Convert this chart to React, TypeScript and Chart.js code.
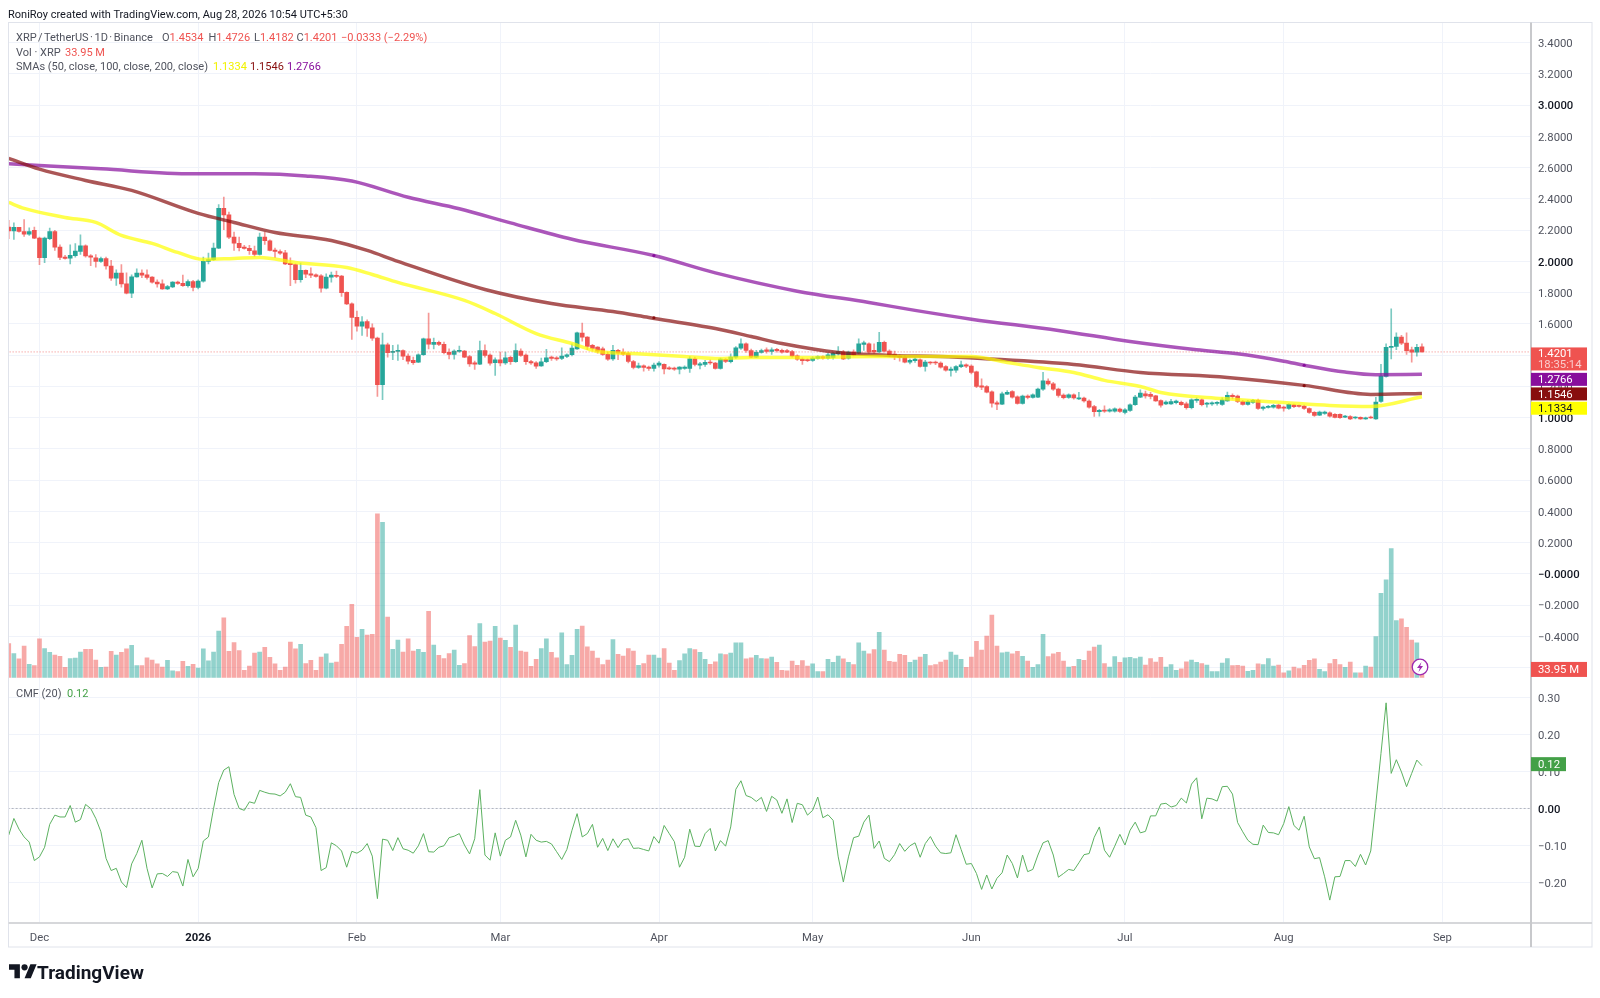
import { Chart, registerables, type Plugin } from 'chart.js';
import { type FC, type ReactNode, useEffect, useRef } from 'react';

Chart.register(...registerables);

// days counted from 1 Dec 2025; the first candle is 25 Nov
const firstDay = -6;
const monthDays = [0, 31, 62, 90, 121, 151, 182, 212, 243, 274];
const monthLabels = ['Dec', '2026', 'Feb', 'Mar', 'Apr', 'May', 'Jun', 'Jul', 'Aug', 'Sep'];
const priceTicks = [3.4, 3.2, 3.0, 2.8, 2.6, 2.4, 2.2, 2.0, 1.8, 1.6, 1.4, 1.2, 1.0, 0.8, 0.6, 0.4, 0.2, 0, -0.2, -0.4, -0.6];
const cmfTicks = [0.3, 0.2, 0.1, 0, -0.1, -0.2];

const opens = [
  2.219, 2.194, 2.217, 2.191, 2.174, 2.198,
  2.149, 2.023, 2.145, 2.191, 2.091, 2.027, 2.021, 2.036, 2.063, 2.1,
  2.036, 2.023, 2.0, 2.017, 1.97, 1.893, 1.925, 1.856, 1.797, 1.901,
  1.925, 1.914, 1.899, 1.867, 1.856, 1.824, 1.837, 1.867, 1.859, 1.844,
  1.871, 1.833, 1.873, 2.0, 2.01, 2.085, 2.339, 2.298, 2.155, 2.115,
  2.091, 2.083, 2.068, 2.044, 2.155, 2.132, 2.072, 2.063, 2.055, 1.987,
  1.98, 1.882, 1.942, 1.92, 1.914, 1.908, 1.829, 1.899, 1.91, 1.906,
  1.801, 1.728, 1.641, 1.585, 1.615, 1.575, 1.509, 1.21, 1.466, 1.417,
  1.423, 1.428, 1.393, 1.366, 1.355, 1.402, 1.504, 1.468, 1.481, 1.468,
  1.417, 1.404, 1.423, 1.426, 1.391, 1.351, 1.342, 1.428, 1.4, 1.351,
  1.37, 1.349, 1.385, 1.357, 1.426, 1.4, 1.359, 1.351, 1.331, 1.357,
  1.387, 1.383, 1.378, 1.391, 1.402, 1.44, 1.541, 1.515, 1.462, 1.451,
  1.44, 1.404, 1.376, 1.43, 1.417, 1.41, 1.359, 1.321, 1.331, 1.323,
  1.314, 1.336, 1.34, 1.319, 1.314, 1.31, 1.314, 1.314, 1.376, 1.336,
  1.34, 1.355, 1.349, 1.314, 1.372, 1.357, 1.387, 1.445, 1.472, 1.428,
  1.387, 1.417, 1.434, 1.423, 1.436, 1.43, 1.428, 1.423, 1.395, 1.374,
  1.37, 1.366, 1.378, 1.391, 1.381, 1.385, 1.408, 1.419, 1.381, 1.421,
  1.413, 1.468, 1.472, 1.43, 1.421, 1.481, 1.425, 1.406, 1.393, 1.385,
  1.355, 1.364, 1.37, 1.327, 1.355, 1.355, 1.349, 1.327, 1.301, 1.304,
  1.325, 1.338, 1.329, 1.293, 1.203, 1.199, 1.165, 1.095, 1.086, 1.15,
  1.167, 1.133, 1.09, 1.137, 1.129, 1.131, 1.182, 1.233, 1.216, 1.182,
  1.144, 1.129, 1.146, 1.12, 1.125, 1.105, 1.071, 1.037, 1.048, 1.041,
  1.041, 1.054, 1.033, 1.046, 1.082, 1.131, 1.152, 1.148, 1.139, 1.109,
  1.088, 1.088, 1.095, 1.097, 1.088, 1.063, 1.11, 1.114, 1.086, 1.088,
  1.09, 1.084, 1.107, 1.142, 1.137, 1.103, 1.084, 1.097, 1.11, 1.058,
  1.065, 1.067, 1.08, 1.067, 1.058, 1.082, 1.078, 1.073, 1.058, 1.033,
  1.016, 1.026, 1.031, 1.02, 1.02, 1.003, 1.007, 0.997, 1.001, 0.992,
  1.003, 0.992, 1.103, 1.263, 1.449, 1.455, 1.515, 1.477, 1.434, 1.419,
  1.4534,
];

const closes = [
  2.194, 2.217, 2.191, 2.174, 2.191, 2.149,
  2.023, 2.149, 2.191, 2.091, 2.025, 2.019, 2.038, 2.066, 2.1, 2.034,
  2.027, 2.0, 2.017, 1.97, 1.893, 1.925, 1.856, 1.797, 1.901, 1.925,
  1.912, 1.897, 1.867, 1.856, 1.824, 1.839, 1.867, 1.859, 1.844, 1.871,
  1.833, 1.873, 2.0, 2.012, 2.085, 2.339, 2.298, 2.155, 2.117, 2.087,
  2.083, 2.068, 2.044, 2.155, 2.132, 2.07, 2.063, 2.053, 1.984, 1.978,
  1.882, 1.942, 1.918, 1.912, 1.903, 1.829, 1.899, 1.912, 1.903, 1.799,
  1.728, 1.641, 1.585, 1.613, 1.573, 1.509, 1.21, 1.466, 1.415, 1.423,
  1.43, 1.393, 1.361, 1.351, 1.402, 1.504, 1.47, 1.481, 1.468, 1.415,
  1.404, 1.426, 1.43, 1.387, 1.344, 1.342, 1.428, 1.398, 1.348, 1.37,
  1.349, 1.383, 1.357, 1.428, 1.398, 1.357, 1.349, 1.329, 1.357, 1.383,
  1.378, 1.376, 1.393, 1.402, 1.445, 1.543, 1.515, 1.455, 1.443, 1.425,
  1.404, 1.374, 1.43, 1.413, 1.406, 1.359, 1.321, 1.331, 1.321, 1.314,
  1.336, 1.349, 1.312, 1.312, 1.31, 1.323, 1.323, 1.376, 1.34, 1.344,
  1.353, 1.349, 1.314, 1.374, 1.359, 1.387, 1.447, 1.472, 1.43, 1.387,
  1.417, 1.428, 1.423, 1.434, 1.428, 1.419, 1.419, 1.393, 1.374, 1.364,
  1.364, 1.381, 1.391, 1.381, 1.402, 1.413, 1.423, 1.376, 1.419, 1.4,
  1.472, 1.479, 1.419, 1.419, 1.481, 1.425, 1.4, 1.395, 1.385, 1.355,
  1.366, 1.374, 1.327, 1.355, 1.349, 1.349, 1.323, 1.304, 1.31, 1.327,
  1.338, 1.329, 1.289, 1.199, 1.195, 1.163, 1.092, 1.086, 1.152, 1.161,
  1.131, 1.09, 1.137, 1.129, 1.146, 1.182, 1.235, 1.216, 1.182, 1.142,
  1.127, 1.146, 1.125, 1.127, 1.107, 1.067, 1.037, 1.046, 1.041, 1.05,
  1.056, 1.039, 1.05, 1.082, 1.131, 1.156, 1.139, 1.135, 1.107, 1.08,
  1.099, 1.103, 1.105, 1.082, 1.063, 1.114, 1.114, 1.082, 1.092, 1.095,
  1.097, 1.114, 1.142, 1.133, 1.103, 1.084, 1.103, 1.11, 1.058, 1.067,
  1.071, 1.078, 1.06, 1.06, 1.084, 1.069, 1.071, 1.058, 1.033, 1.014,
  1.035, 1.035, 1.009, 1.001, 0.999, 1.009, 0.992, 1.003, 0.992, 0.999,
  0.997, 1.099, 1.265, 1.449, 1.453, 1.515, 1.477, 1.428, 1.419, 1.449,
  1.4201,
];

const highs = [
  2.262, 2.247, 2.217, 2.268, 2.215, 2.219,
  2.155, 2.155, 2.213, 2.198, 2.106, 2.038, 2.106, 2.113, 2.17, 2.106,
  2.044, 2.044, 2.027, 2.027, 2.006, 1.946, 1.98, 1.927, 1.914, 1.952,
  1.946, 1.946, 1.903, 1.882, 1.882, 1.846, 1.871, 1.873, 1.912, 1.882,
  1.878, 1.882, 2.027, 2.053, 2.117, 2.364, 2.411, 2.315, 2.187, 2.155,
  2.102, 2.102, 2.098, 2.181, 2.187, 2.138, 2.085, 2.074, 2.07, 2.023,
  1.984, 1.989, 1.946, 1.959, 1.92, 1.916, 1.92, 1.931, 1.937, 1.91,
  1.805, 1.735, 1.681, 1.647, 1.626, 1.6, 1.515, 1.541, 1.477, 1.462,
  1.466, 1.434, 1.408, 1.387, 1.408, 1.509, 1.669, 1.509, 1.489, 1.483,
  1.44, 1.434, 1.458, 1.43, 1.398, 1.361, 1.489, 1.466, 1.408, 1.383,
  1.419, 1.419, 1.393, 1.472, 1.44, 1.408, 1.366, 1.359, 1.38, 1.436,
  1.393, 1.391, 1.447, 1.408, 1.472, 1.547, 1.605, 1.519, 1.468, 1.455,
  1.451, 1.419, 1.462, 1.436, 1.44, 1.419, 1.366, 1.349, 1.338, 1.329,
  1.349, 1.359, 1.344, 1.327, 1.323, 1.327, 1.331, 1.391, 1.387, 1.353,
  1.366, 1.37, 1.353, 1.38, 1.378, 1.408, 1.455, 1.504, 1.479, 1.438,
  1.43, 1.438, 1.447, 1.447, 1.443, 1.438, 1.436, 1.43, 1.402, 1.383,
  1.376, 1.391, 1.395, 1.395, 1.413, 1.419, 1.455, 1.43, 1.425, 1.434,
  1.504, 1.489, 1.479, 1.472, 1.545, 1.489, 1.434, 1.425, 1.402, 1.398,
  1.374, 1.383, 1.376, 1.366, 1.359, 1.361, 1.357, 1.333, 1.323, 1.333,
  1.361, 1.344, 1.338, 1.297, 1.248, 1.205, 1.171, 1.105, 1.163, 1.173,
  1.173, 1.139, 1.144, 1.146, 1.152, 1.188, 1.289, 1.248, 1.225, 1.188,
  1.152, 1.152, 1.152, 1.161, 1.131, 1.114, 1.078, 1.052, 1.075, 1.058,
  1.063, 1.06, 1.058, 1.088, 1.142, 1.178, 1.169, 1.161, 1.142, 1.114,
  1.107, 1.116, 1.112, 1.105, 1.099, 1.12, 1.127, 1.12, 1.097, 1.101,
  1.103, 1.127, 1.163, 1.152, 1.144, 1.11, 1.11, 1.116, 1.118, 1.073,
  1.078, 1.084, 1.086, 1.073, 1.09, 1.086, 1.082, 1.08, 1.063, 1.039,
  1.041, 1.041, 1.037, 1.026, 1.024, 1.014, 1.012, 1.007, 1.005, 1.003,
  1.01, 1.129, 1.34, 1.472, 1.696, 1.543, 1.526, 1.543, 1.451, 1.468,
  1.4726,
];

const lows = [
  2.145, 2.14, 2.187, 2.159, 2.166, 2.145,
  1.978, 1.991, 2.138, 2.07, 2.01, 2.014, 1.984, 2.027, 2.044, 2.027,
  1.972, 1.963, 1.993, 1.95, 1.878, 1.846, 1.835, 1.792, 1.767, 1.899,
  1.895, 1.886, 1.861, 1.835, 1.82, 1.818, 1.831, 1.852, 1.839, 1.835,
  1.81, 1.824, 1.867, 1.984, 2.006, 2.081, 2.202, 2.145, 2.07, 2.066,
  2.078, 2.044, 2.031, 2.04, 2.108, 2.066, 2.023, 2.044, 1.978, 1.844,
  1.861, 1.867, 1.895, 1.895, 1.899, 1.803, 1.824, 1.867, 1.895, 1.775,
  1.722, 1.5, 1.553, 1.526, 1.519, 1.494, 1.135, 1.114, 1.387, 1.37,
  1.366, 1.37, 1.344, 1.34, 1.351, 1.398, 1.44, 1.44, 1.46, 1.408,
  1.376, 1.374, 1.417, 1.383, 1.327, 1.308, 1.338, 1.387, 1.336, 1.27,
  1.331, 1.34, 1.34, 1.353, 1.391, 1.34, 1.34, 1.314, 1.327, 1.351,
  1.366, 1.366, 1.37, 1.383, 1.395, 1.436, 1.489, 1.434, 1.43, 1.413,
  1.398, 1.366, 1.366, 1.37, 1.398, 1.349, 1.312, 1.314, 1.297, 1.301,
  1.297, 1.323, 1.28, 1.306, 1.301, 1.28, 1.308, 1.289, 1.331, 1.312,
  1.327, 1.34, 1.31, 1.31, 1.351, 1.349, 1.378, 1.436, 1.417, 1.383,
  1.383, 1.413, 1.413, 1.404, 1.419, 1.413, 1.415, 1.387, 1.366, 1.34,
  1.357, 1.359, 1.374, 1.374, 1.374, 1.374, 1.4, 1.37, 1.374, 1.395,
  1.408, 1.43, 1.413, 1.413, 1.415, 1.419, 1.391, 1.37, 1.361, 1.349,
  1.344, 1.353, 1.323, 1.297, 1.34, 1.338, 1.316, 1.297, 1.265, 1.289,
  1.319, 1.319, 1.28, 1.191, 1.178, 1.157, 1.067, 1.05, 1.082, 1.146,
  1.124, 1.086, 1.086, 1.12, 1.124, 1.127, 1.174, 1.207, 1.174, 1.131,
  1.12, 1.122, 1.118, 1.114, 1.099, 1.06, 1.007, 1.009, 1.033, 1.035,
  1.035, 1.033, 1.024, 1.039, 1.078, 1.127, 1.124, 1.12, 1.103, 1.067,
  1.082, 1.084, 1.088, 1.078, 1.054, 1.056, 1.097, 1.075, 1.067, 1.078,
  1.08, 1.078, 1.103, 1.12, 1.095, 1.08, 1.08, 1.09, 1.052, 1.048,
  1.06, 1.06, 1.056, 1.041, 1.052, 1.063, 1.067, 1.052, 1.026, 1.007,
  1.012, 1.02, 1.003, 0.997, 0.995, 0.999, 0.986, 0.992, 0.988, 0.988,
  0.994, 0.988, 1.097, 1.259, 1.376, 1.434, 1.466, 1.404, 1.355, 1.393,
  1.4182,
];

// volume in millions of XRP
const volumes = [
  143, 101, 78, 132, 55, 50,
  162, 122, 106, 94, 89, 43, 80, 82, 107, 118,
  118, 73, 43, 44, 110, 94, 106, 120, 135, 50,
  50, 83, 73, 57, 44, 72, 28, 25, 68, 47,
  55, 40, 120, 70, 107, 195, 251, 110, 147, 113,
  30, 48, 103, 107, 127, 85, 57, 30, 44, 149,
  120, 139, 59, 72, 30, 86, 100, 61, 65, 139,
  215, 307, 169, 202, 178, 181, 687, 652, 254, 118,
  157, 107, 162, 111, 118, 106, 278, 136, 93, 80,
  101, 115, 51, 59, 176, 130, 227, 149, 153, 215,
  166, 156, 127, 220, 111, 107, 47, 76, 122, 163,
  106, 83, 188, 54, 93, 202, 216, 129, 111, 82,
  54, 73, 159, 97, 90, 122, 111, 51, 59, 94,
  94, 82, 122, 61, 30, 71, 99, 122, 117, 106,
  76, 55, 66, 99, 96, 103, 146, 146, 78, 83,
  93, 80, 78, 86, 64, 30, 28, 69, 51, 71,
  48, 57, 25, 25, 76, 64, 90, 78, 64, 54,
  146, 111, 99, 117, 190, 115, 68, 65, 97, 93,
  64, 73, 86, 97, 50, 54, 65, 73, 107, 94,
  76, 43, 86, 152, 115, 174, 262, 132, 104, 107,
  100, 110, 89, 69, 43, 54, 181, 88, 99, 106,
  69, 44, 47, 76, 72, 111, 128, 136, 59, 44,
  88, 64, 83, 85, 80, 86, 52, 80, 65, 85,
  44, 54, 30, 37, 66, 73, 64, 59, 52, 25,
  25, 61, 80, 50, 51, 48, 26, 30, 57, 54,
  80, 48, 52, 20, 28, 44, 38, 51, 72, 78,
  34, 25, 59, 76, 54, 43, 65, 20, 20, 48,
  44, 172, 354, 410, 542, 239, 246, 211, 157, 146,
  33.95,
];

const cmfValues = [
  -0.072, -0.027, -0.056, -0.077, -0.091, -0.141,
  -0.131, -0.105, -0.043, -0.018, -0.023, -0.023, 0.008, -0.037, -0.03, 0.011,
  0, -0.027, -0.063, -0.135, -0.168, -0.162, -0.199, -0.214, -0.15, -0.122,
  -0.086, -0.162, -0.215, -0.177, -0.176, -0.184, -0.171, -0.173, -0.21, -0.138,
  -0.185, -0.162, -0.088, -0.077, 0, 0.07, 0.104, 0.113, 0.038, 0,
  -0.005, 0.018, 0.014, 0.049, 0.044, 0.04, 0.039, 0.034, 0.044, 0.067,
  0.032, 0.03, -0.018, -0.023, -0.052, -0.168, -0.16, -0.093, -0.101, -0.115,
  -0.159, -0.116, -0.121, -0.113, -0.095, -0.129, -0.244, -0.083, -0.086, -0.114,
  -0.079, -0.109, -0.113, -0.121, -0.101, -0.068, -0.117, -0.118, -0.105, -0.101,
  -0.079, -0.075, -0.068, -0.099, -0.123, -0.082, 0.051, -0.126, -0.14, -0.066,
  -0.129, -0.086, -0.077, -0.032, -0.072, -0.131, -0.07, -0.086, -0.091, -0.089,
  -0.096, -0.117, -0.138, -0.111, -0.059, -0.014, -0.077, -0.068, -0.043, -0.105,
  -0.081, -0.114, -0.082, -0.106, -0.085, -0.082, -0.108, -0.107, -0.111, -0.115,
  -0.076, -0.094, -0.046, -0.068, -0.09, -0.159, -0.132, -0.056, -0.102, -0.103,
  -0.068, -0.054, -0.115, -0.087, -0.102, -0.05, 0.052, 0.075, 0.035, 0.03,
  0.019, 0.03, -0.008, 0.033, 0.023, -0.013, 0.026, -0.038, 0.014, 0.01,
  -0.018, -0.005, 0.031, -0.025, -0.017, -0.032, -0.131, -0.199, -0.131, -0.079,
  -0.075, -0.037, -0.018, -0.108, -0.088, -0.135, -0.144, -0.125, -0.095, -0.116,
  -0.101, -0.093, -0.132, -0.095, -0.076, -0.102, -0.12, -0.122, -0.12, -0.071,
  -0.111, -0.151, -0.149, -0.176, -0.219, -0.18, -0.218, -0.189, -0.174, -0.126,
  -0.149, -0.188, -0.126, -0.171, -0.165, -0.126, -0.093, -0.087, -0.126, -0.186,
  -0.176, -0.165, -0.168, -0.147, -0.125, -0.122, -0.078, -0.05, -0.113, -0.132,
  -0.102, -0.07, -0.099, -0.059, -0.037, -0.066, -0.062, -0.02, -0.02, 0.012,
  0.014, 0.004, 0.008, 0.028, 0.015, 0.066, 0.083, -0.028, 0.028, 0.026,
  0.02, 0.059, 0.06, 0.039, -0.038, -0.063, -0.086, -0.097, -0.098, -0.045,
  -0.065, -0.066, -0.071, -0.041, 0.005, -0.046, -0.059, -0.021, -0.104, -0.136,
  -0.133, -0.185, -0.248, -0.185, -0.184, -0.141, -0.141, -0.157, -0.124, -0.153,
  -0.115, 0.014, 0.149, 0.286, 0.095, 0.132, 0.099, 0.059, 0.095, 0.131,
  0.116,
];

const sma50Days = [-6, -3, 5, 11, 16, 22, 27, 32, 38, 43, 50, 60, 65, 70, 83, 89, 97, 104, 109, 116, 126, 132, 139, 150, 163, 182, 189, 195, 202, 208, 215, 219, 231, 243, 252, 260, 270];
const sma50Values = [2.377, 2.339, 2.281, 2.249, 2.166, 2.115, 2.057, 2.012, 2.019, 2.025, 1.993, 1.961, 1.916, 1.865, 1.75, 1.666, 1.538, 1.474, 1.423, 1.41, 1.391, 1.378, 1.385, 1.385, 1.391, 1.391, 1.353, 1.321, 1.289, 1.238, 1.199, 1.161, 1.122, 1.097, 1.078, 1.071, 1.1334];
const sma100Days = [-6, 0, 9, 18, 31, 38, 46, 57, 64, 70, 87, 100, 112, 119, 132, 139, 145, 156, 166, 176, 184, 202, 215, 232, 247, 260, 270];
const sma100Values = [2.659, 2.59, 2.518, 2.454, 2.307, 2.249, 2.185, 2.134, 2.07, 2.0, 1.82, 1.73, 1.679, 1.641, 1.57, 1.519, 1.474, 1.417, 1.398, 1.391, 1.378, 1.34, 1.289, 1.257, 1.206, 1.148, 1.1546];
const sma200Days = [-6, 12, 30, 42, 52, 61, 72, 82, 92, 104, 120, 132, 148, 162, 171, 182, 199, 213, 226, 234, 243, 247, 255, 261, 270];
const sma200Values = [2.625, 2.592, 2.56, 2.56, 2.547, 2.514, 2.41, 2.337, 2.246, 2.141, 2.037, 1.926, 1.809, 1.737, 1.686, 1.63, 1.558, 1.487, 1.434, 1.408, 1.361, 1.335, 1.291, 1.274, 1.2766];

// the small darker dots sitting on the two slow averages
const smaMarkDays = [120, 247];
const sma100Marks = [1.639, 1.204];
const sma200Marks = [2.037, 1.335];

const lastPrice = 1.4201;
const lastVolume = 33.95;
const lastCmf = 0.12;

const UP = '#26a69a';
const DOWN = '#ef5350';
const FONT = 'Roboto, "Noto Sans", sans-serif';
const TEXT = '#50535e';
const GRID = '#f0f3fa';
const TICK_SIZE = 11.3;

const dayOf = (i: number) => i + firstDay;
const isUp = (i: number) => closes[i] >= opens[i];
const minusText = (s: string) => s.replace('-', '\u2212');

// the empty first line drops the label a little below the gridline, as in the reference
const lowered = (s: string) => ['', s];

const priceTickLabel = (v: number) => {
  if (v === -0.6) return '';
  if (v === 0) return lowered('\u22120.0000');
  return lowered(minusText(v.toFixed(4)));
};

// the tags at the right edge, nudged off each other the way the platform does it
const tagsPlugin: Plugin = {
  id: 'priceTags',
  afterDraw(chart) {
    const { ctx, scales } = chart;
    const left = 1531;
    const tags = [
      { axis: 'y', value: lastPrice, text: lastPrice.toFixed(4), sub: '18:35:14', fill: '#ef5350', nudge: 7, h: 23, w: 56 },
      { axis: 'y', value: sma200Values[sma200Values.length - 1], text: '1.2766', fill: '#880e9c', nudge: 5, h: 13, w: 56 },
      { axis: 'y', value: sma100Values[sma100Values.length - 1], text: '1.1546', fill: '#880e0e', nudge: 0.5, h: 13, w: 56 },
      { axis: 'y', value: sma50Values[sma50Values.length - 1], text: '1.1334', fill: '#ffff00', color: '#131722', nudge: 11.5, h: 13, w: 56 },
      { axis: 'vol', value: lastVolume, text: `${lastVolume} M`, fill: '#ef5350', nudge: 0, h: 15, w: 56 },
      { axis: 'cmf', value: lastCmf, text: lastCmf.toFixed(2), fill: '#43a047', nudge: 0, h: 14, w: 35 },
    ];
    ctx.save();
    ctx.font = `${TICK_SIZE}px ${FONT}`;
    ctx.textBaseline = 'middle';
    ctx.textAlign = 'left';
    tags.forEach((t) => {
      const cy = scales[t.axis].getPixelForValue(t.value) + t.nudge;
      ctx.fillStyle = t.fill;
      ctx.fillRect(left, cy - t.h / 2, t.w, t.h);
      ctx.fillStyle = t.color ?? '#ffffff';
      if (t.sub) {
        ctx.fillText(t.text, left + 7, cy - 5);
        ctx.fillStyle = 'rgba(255,255,255,0.7)';
        ctx.fillText(t.sub, left + 7, cy + 6.5);
      } else {
        ctx.fillText(t.text, left + 7, cy + 1);
      }
    });
    ctx.restore();
  },
};

const framePlugin: Plugin = {
  id: 'frame',
  afterDatasetsDraw(chart) {
    const { ctx, chartArea } = chart;
    ctx.save();
    ctx.strokeStyle = '#e0e3eb';
    ctx.lineWidth = 1;
    ctx.strokeRect(8.5, chartArea.top, 1592 - 8.5, 947 - chartArea.top);
    ctx.strokeStyle = '#d6d7da';
    ctx.lineWidth = 2;
    ctx.beginPath();
    ctx.moveTo(8.5, chartArea.bottom);
    ctx.lineTo(1592, chartArea.bottom);
    ctx.stroke();
    ctx.strokeStyle = '#c8c9cc';
    ctx.beginPath();
    ctx.moveTo(chartArea.right, chartArea.top);
    ctx.lineTo(chartArea.right, 947);
    ctx.stroke();
    ctx.restore();
  },
};

const Txt = ({ left, top, color = TEXT, wordSpacing = 0, children }: { left: number; top: number; color?: string; wordSpacing?: number; children: ReactNode }) => (
  <div style={{ position: 'absolute', left, top, font: `11px ${FONT}`, color, wordSpacing, whiteSpace: 'pre', lineHeight: '14px' }}>{children}</div>
);

const App: FC = () => {
  const canvasRef = useRef<HTMLCanvasElement>(null);

  useEffect(() => {
    if (!canvasRef.current) return;

    const line = (days: number[], values: number[]) => days.map((d, i) => ({ x: d, y: values[i] }));
    const smaLine = (label: string, days: number[], values: number[], color: string) => ({
      type: 'line' as const,
      label,
      data: line(days, values),
      borderColor: color,
      borderWidth: 3.5,
      pointRadius: 0,
      cubicInterpolationMode: 'monotone' as const,
      yAxisID: 'y',
      order: 1,
    });
    const smaDots = (label: string, values: number[], color: string) => ({
      type: 'line' as const,
      label,
      data: line(smaMarkDays, values),
      showLine: false,
      pointRadius: 1.6,
      pointBorderWidth: 0,
      pointBackgroundColor: color,
      yAxisID: 'y',
      order: 0,
    });

    const chart = new Chart(canvasRef.current, {
      type: 'bar',
      data: {
        datasets: [
          {
            label: 'Vol',
            data: volumes.map((v, i) => ({ x: dayOf(i), y: v })),
            backgroundColor: volumes.map((_, i) => (isUp(i) ? 'rgba(38,166,154,0.5)' : 'rgba(239,83,80,0.5)')),
            barThickness: 4,
            yAxisID: 'vol',
            order: 6,
          },
          {
            label: 'wicks',
            data: highs.map((h, i) => ({ x: dayOf(i), y: [lows[i], h] })),
            backgroundColor: highs.map((_, i) => (isUp(i) ? 'rgba(38,166,154,0.6)' : 'rgba(239,83,80,0.6)')),
            barThickness: 1,
            yAxisID: 'y',
            order: 4,
          },
          {
            label: 'bodies',
            data: opens.map((o, i) => ({ x: dayOf(i), y: [o, closes[i]] })),
            backgroundColor: opens.map((_, i) => (isUp(i) ? UP : DOWN)),
            barThickness: 4,
            minBarLength: 1,
            yAxisID: 'y',
            order: 3,
          },
          {
            type: 'line',
            label: 'last price',
            data: [{ x: -7, y: lastPrice }, { x: 292, y: lastPrice }],
            borderColor: 'rgba(239,83,80,0.7)',
            borderWidth: 1,
            borderDash: [1, 2],
            pointRadius: 0,
            yAxisID: 'y',
            order: 2,
          },
          smaLine('SMA 50', sma50Days, sma50Values, 'rgba(255,255,0,0.7)'),
          smaLine('SMA 100', sma100Days, sma100Values, 'rgba(136,14,14,0.7)'),
          smaLine('SMA 200', sma200Days, sma200Values, 'rgba(136,14,156,0.7)'),
          smaDots('SMA 100 dots', sma100Marks, '#880e0e'),
          smaDots('SMA 200 dots', sma200Marks, '#880e9c'),
          {
            type: 'line',
            label: 'CMF zero',
            data: [{ x: -7, y: 0 }, { x: 292, y: 0 }],
            borderColor: '#b2b5be',
            borderWidth: 1,
            borderDash: [2, 2],
            pointRadius: 0,
            yAxisID: 'cmf',
            order: 2,
          },
          {
            type: 'line',
            label: 'CMF',
            data: cmfValues.map((v, i) => ({ x: dayOf(i), y: v })),
            borderColor: '#5cb160',
            borderWidth: 1,
            pointRadius: 0,
            yAxisID: 'cmf',
            order: 1,
          },
        ],
      },
      options: {
        responsive: false,
        animation: false,
        events: [],
        datasets: { bar: { grouped: false, borderSkipped: false } },
        layout: { padding: { left: 8.5, top: 22.5, right: 0, bottom: 51 } },
        plugins: { legend: { display: false }, tooltip: { enabled: false } },
        scales: {
          x: {
            type: 'linear',
            min: -6.05,
            max: 291.3,
            offset: false,
            afterFit: (s) => {
              s.height = 24;
            },
            afterBuildTicks: (s) => {
              s.ticks = monthDays.map((value) => ({ value }));
            },
            grid: { color: GRID, offset: false, drawTicks: false },
            border: { display: false },
            ticks: {
              autoSkip: false,
              maxRotation: 0,
              padding: 8,
              color: (c) => (c.tick?.value === 31 ? '#131722' : TEXT),
              font: (c) => ({ family: FONT, size: TICK_SIZE, weight: c.tick?.value === 31 ? 'bold' : 'normal' }),
              callback: (_v, i) => monthLabels[i],
            },
          },
          y: {
            type: 'linear',
            position: 'right',
            stack: 'panes',
            stackWeight: 657.5,
            min: -0.68,
            max: 3.529,
            afterFit: (s) => {
              s.width = 69;
            },
            afterBuildTicks: (s) => {
              s.ticks = priceTicks.map((value) => ({ value }));
            },
            grid: { color: GRID, drawTicks: false },
            border: { display: false },
            ticks: {
              padding: 7,
              color: (c) => ([3, 2, 1, 0].includes(c.tick?.value) ? '#131722' : TEXT),
              font: (c) => ({ family: FONT, size: TICK_SIZE, lineHeight: '3px', weight: [3, 2, 1, 0].includes(c.tick?.value) ? '500' : 'normal' }),
              callback: (v) => priceTickLabel(Number(v)),
            },
          },
          cmf: {
            type: 'linear',
            position: 'right',
            stack: 'panes',
            stackWeight: 243,
            min: -0.31,
            max: 0.3478,
            afterFit: (s) => {
              s.width = 69;
            },
            afterBuildTicks: (s) => {
              s.ticks = cmfTicks.map((value) => ({ value }));
            },
            grid: { color: GRID, drawTicks: false },
            border: { display: false },
            ticks: {
              padding: 7,
              color: (c) => (c.tick?.value === 0 ? '#131722' : TEXT),
              font: (c) => ({ family: FONT, size: TICK_SIZE, lineHeight: '3px', weight: c.tick?.value === 0 ? '500' : 'normal' }),
              callback: (v) => lowered(minusText(Number(v).toFixed(2))),
            },
          },
          // shares the whole plot height, so the zero sits at the foot of the upper pane
          vol: {
            type: 'linear',
            position: 'right',
            display: false,
            min: -1031,
            max: 2751,
          },
        },
      },
      plugins: [framePlugin, tagsPlugin],
    });

    return () => {
      chart.destroy();
    };
  }, []);

  return (
    <div style={{ position: 'absolute', left: 0, top: 0, width: 1600, height: 998, background: '#fff', overflow: 'hidden' }}>
      <canvas ref={canvasRef} width={1600} height={998} style={{ position: 'absolute', left: 0, top: 0 }} />
      <Txt left={8} top={8} color="#131722">RoniRoy created with TradingView.com, Aug 28, 2026 10:54 UTC+5:30</Txt>
      <Txt left={16} top={31} wordSpacing={-1.25}>XRP / TetherUS · 1D · Binance</Txt>
      <Txt left={162} top={31}>O<span style={{ color: DOWN }}>1.4534</span></Txt>
      <Txt left={208.5} top={31}>H<span style={{ color: DOWN }}>1.4726</span></Txt>
      <Txt left={254} top={31}>L<span style={{ color: DOWN }}>1.4182</span></Txt>
      <Txt left={296.5} top={31}>C<span style={{ color: DOWN }}>1.4201</span></Txt>
      <Txt left={341} top={31} color={DOWN}>−0.0333 (−2.29%)</Txt>
      <Txt left={16} top={46}>Vol · XRP</Txt>
      <Txt left={65} top={46} color={DOWN}>33.95 M</Txt>
      <Txt left={16} top={60}>SMAs (50, close, 100, close, 200, close)</Txt>
      <Txt left={213} top={60} color="#f2f200">1.1334</Txt>
      <Txt left={250} top={60} color="#880e0e">1.1546</Txt>
      <Txt left={287} top={60} color="#880e9c">1.2766</Txt>
      <Txt left={16} top={687}>CMF (20)</Txt>
      <Txt left={67} top={687} color="#43a047">0.12</Txt>
      <svg width="18" height="18" viewBox="0 0 18 18" style={{ position: 'absolute', left: 1411, top: 658 }}>
        <circle cx="9" cy="9" r="7.8" fill="#fff" stroke="#9c27b0" strokeWidth="1.3" />
        <path d="M10.5 4 6 10h2.8L7.5 14l4.5-6H9.2z" fill="#9c27b0" />
      </svg>
      <svg width="28" height="22" viewBox="0 0 36 28" style={{ position: 'absolute', left: 9, top: 961 }}>
        <path d="M14 22H7V11H0V4h14v18zM28 22h-8l7.5-18h8L28 22z" fill="#131722" />
        <circle cx="20" cy="8" r="4" fill="#131722" />
      </svg>
      <div style={{ position: 'absolute', left: 37, top: 962, font: `700 19px ${FONT}`, color: '#131722', lineHeight: '22px' }}>TradingView</div>
    </div>
  );
};

export default App;
